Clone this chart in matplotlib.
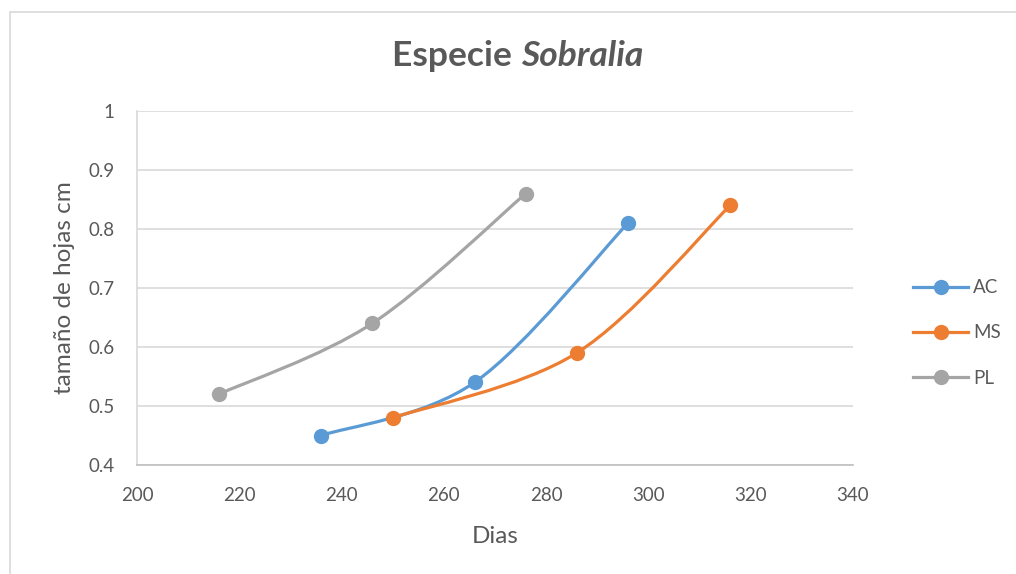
import matplotlib.pyplot as plt
import numpy as np
from matplotlib.path import Path
from matplotlib.patches import PathPatch, Rectangle
from matplotlib.lines import Line2D

# days and leaf size (cm) per treatment
ac_dias = [236, 266, 296]
ac_size = [0.45, 0.54, 0.81]
ms_dias = [250, 286, 316]
ms_size = [0.48, 0.59, 0.84]
pl_dias = [216, 246, 276]
pl_size = [0.52, 0.64, 0.86]

series = [("AC", ac_dias, ac_size, "#5B9BD5"),
          ("MS", ms_dias, ms_size, "#ED7D31"),
          ("PL", pl_dias, pl_size, "#A5A5A5")]

x_ticks = [200, 220, 240, 260, 280, 300, 320, 340]
y_ticks = [0.4, 0.5, 0.6, 0.7, 0.8, 0.9, 1.0]

TXT = "#595959"
GRID = "#D9D9D9"
FS = 13.5      # ticks / legend
FS_LAB = 17.5  # axis titles
plt.rcParams['font.family'] = ['Lato', 'DejaVu Sans']


def smooth_path(xs, ys):
    """cubic bezier through the points (catmull-rom style, like office smoothing)"""
    pts = np.column_stack([xs, ys]).astype(float)
    n = len(pts)
    verts = [pts[0]]
    codes = [Path.MOVETO]
    for i in range(n - 1):
        p0 = pts[i - 1] if i > 0 else pts[i]
        p1 = pts[i]
        p2 = pts[i + 1]
        p3 = pts[i + 2] if i + 2 < n else pts[i + 1]
        c1 = p1 + (p2 - p0) / 6.0
        c2 = p2 - (p3 - p1) / 6.0
        verts += [c1, c2, p2]
        codes += [Path.CURVE4] * 3
    return Path(verts, codes)


fig = plt.figure(figsize=(10.16, 5.74), dpi=100)
ax = fig.add_axes([137 / 1016, 1 - 465 / 574, 716 / 1016, 354 / 574])

for name, xs, ys, col in series:
    ax.add_patch(PathPatch(smooth_path(xs, ys), facecolor='none', edgecolor=col,
                           lw=2.3, capstyle='round', zorder=3))
    ax.plot(xs, ys, ls='none', marker='o', ms=10, color=col, mec=col, zorder=4)

ax.set_xlim(200, 340)
ax.set_ylim(0.4, 1.0)
ax.set_xticks(x_ticks)
ax.set_yticks(y_ticks)
ax.set_yticklabels(["0.4", "0.5", "0.6", "0.7", "0.8", "0.9", "1"])
ax.tick_params(length=0, labelsize=FS, labelcolor=TXT)
ax.tick_params(axis='y', pad=16)
ax.tick_params(axis='x', pad=16)
ax.grid(axis='y', color=GRID, lw=1.2)
ax.set_axisbelow(True)
for s in ['top', 'right']:
    ax.spines[s].set_visible(False)
ax.spines['left'].set_color(GRID)
ax.spines['bottom'].set_color("#BFBFBF")
ax.spines['left'].set_linewidth(1.2)
ax.spines['bottom'].set_linewidth(1.2)

ax.set_xlabel("Dias", fontsize=FS_LAB, color=TXT, labelpad=16)
ax.set_ylabel("tamaño de hojas cm", fontsize=FS_LAB, color=TXT, labelpad=10)

fig.text(521 / 1016, 1 - 56 / 574, "Especie ", fontsize=25.5, fontweight='bold',
         color=TXT, ha='right', va='center')
fig.text(521 / 1016, 1 - 56 / 574, "Sobralia", fontsize=25.5, fontweight='bold',
         fontstyle='italic', color=TXT, ha='left', va='center')

handles = [Line2D([], [], color=c, lw=2.3, marker='o', ms=10) for _, _, _, c in series]
fig.legend(handles, [s[0] for s in series], loc='center left',
           bbox_to_anchor=(896 / 1016, 1 - 333 / 574), frameon=False,
           fontsize=FS, labelcolor=TXT, handlelength=2.95, handletextpad=0.25,
           labelspacing=1.5)

# chart area border
fig.patches.append(Rectangle((10 / 1016, -0.1), 1.1, 1.1 - 12 / 574,
                             transform=fig.transFigure, fill=False,
                             edgecolor=GRID, lw=1.2, zorder=0))

fig.savefig("out.png", dpi=100)
